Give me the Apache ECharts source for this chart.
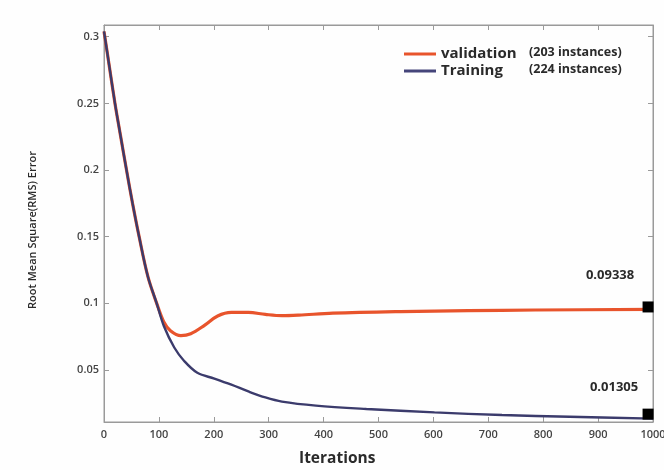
<!DOCTYPE html>
<html>
<head>
<meta charset="utf-8">
<script src="https://cdn.jsdelivr.net/npm/echarts@6/dist/echarts.min.js"></script>
<style>
html,body{margin:0;padding:0;background:#fefefe;}
#c{width:664px;height:470px;}
</style>
</head>
<body>
<div id="c"></div>
<script>
// ---- data ----
var valIters   = [0, 10, 20, 30, 41, 52, 64, 80, 96, 109, 121, 140, 158, 183, 207, 232, 263, 294, 324, 355, 417, 540, 663, 786, 1000];
var valValues  = [0.304, 0.277, 0.25, 0.226, 0.2, 0.175, 0.15, 0.12, 0.1, 0.086, 0.0795, 0.0758, 0.0772, 0.0835, 0.0905, 0.0932, 0.0932, 0.0917, 0.0908, 0.0912, 0.0926, 0.0938, 0.0945, 0.095, 0.0955];
var trainIters  = [0, 10, 20, 30, 41, 52, 64, 80, 96, 109, 128, 146, 170, 201, 232, 263, 294, 324, 386, 478, 602, 725, 848, 1000];
var trainValues = [0.304, 0.277, 0.25, 0.226, 0.2, 0.175, 0.15, 0.12, 0.1, 0.083, 0.0669, 0.0568, 0.0479, 0.0436, 0.039, 0.0339, 0.0294, 0.0263, 0.0233, 0.0208, 0.0182, 0.0162, 0.0149, 0.0135];
var endIters    = [991, 991];
var endValues   = [0.0973, 0.0169];
var endLabels   = ['0.09338', '0.01305'];
var yTicks      = [0.05, 0.1, 0.15, 0.2, 0.25, 0.3];
var seriesNames = ['validation', 'Training'];
var instances   = ['(203 instances)', '(224 instances)'];
var xTitle = 'Iterations';
var yTitle = 'Root Mean Square(RMS) Error';

function pairs(xs, ys){ return xs.map(function(x,i){ return [x, ys[i]]; }); }

var labelOffsets = [[-38, -32], [-34, -27]];
var endData = endIters.map(function(x,i){
  return { value:[x, endValues[i]], label:{ show:true, formatter:endLabels[i], position:'inside', offset:labelOffsets[i] } };
});

var axisGray = '#9a9a9a';
var font = '"Open Sans", "Noto Sans", sans-serif';
var chart = echarts.init(document.getElementById('c'), null, {renderer:'canvas'});
chart.setOption({
  backgroundColor:'#fefefe',
  animation:false,
  grid:{ left:104, right:11, top:25, bottom:48, containLabel:false, outerBoundsMode:'none',
         show:true, borderColor:axisGray, borderWidth:1, backgroundColor:'transparent' },
  legend:{
    orient:'vertical', left:399, top:41, itemGap:1,
    icon:'rect', itemWidth:32, itemHeight:3,
    data: seriesNames,
    formatter:function(n){ var i = seriesNames.indexOf(n); return '{n|' + n + '}{c|' + instances[i] + '}'; },
    textStyle:{
      fontFamily:font,
      rich:{
        n:{ fontSize:15, fontWeight:'bold', color:'#2a2a2a', width:88, lineHeight:16, fontFamily:font },
        c:{ fontSize:12.5, fontWeight:'bold', color:'#2a2a2a', lineHeight:16, fontFamily:font, padding:[0,0,3,0] }
      }
    }
  },
  xAxis:[
    { type:'value', min:0, max:1000, interval:100, position:'bottom',
      axisLine:{ show:true, onZero:false, lineStyle:{ color:axisGray } },
      axisTick:{ show:true, inside:true, length:5, lineStyle:{ color:axisGray } },
      axisLabel:{ color:'#444', fontSize:11, fontWeight:600, fontFamily:font, margin:7,
                  formatter:function(v){ return String(v); } },
      splitLine:{ show:false } },
    { type:'value', min:0, max:1000, interval:100, position:'top',
      axisLine:{ show:true, onZero:false, lineStyle:{ color:axisGray } },
      axisTick:{ show:true, inside:true, length:5, lineStyle:{ color:axisGray } },
      axisLabel:{ show:false }, splitLine:{ show:false } }
  ],
  yAxis:[
    { type:'value', min:0.011, max:0.3088, position:'left',
      axisLine:{ show:true, onZero:false, lineStyle:{ color:axisGray } },
      axisTick:{ show:true, inside:true, length:5, customValues:yTicks, lineStyle:{ color:axisGray } },
      axisLabel:{ customValues:yTicks, color:'#444', fontSize:11, fontWeight:600, fontFamily:font, margin:5,
                  formatter:function(v){ return String(Math.round(v*100)/100); } },
      splitLine:{ show:false } },
    { type:'value', min:0.011, max:0.3088, position:'right',
      axisLine:{ show:true, onZero:false, lineStyle:{ color:axisGray } },
      axisTick:{ show:true, inside:true, length:5, customValues:yTicks, lineStyle:{ color:axisGray } },
      axisLabel:{ show:false }, splitLine:{ show:false } }
  ],
  series:[
    { name:seriesNames[0], type:'line', data:pairs(valIters, valValues), smooth:0.35, showSymbol:false,
      color:'#e8542c', lineStyle:{ color:'#e8542c', width:3.2 }, z:2 },
    { name:seriesNames[1], type:'line', data:pairs(trainIters, trainValues), smooth:0.35, showSymbol:false,
      color:'#45457a', lineStyle:{ color:'#3b3b6c', width:2.4 }, z:3 },
    { name:'end', type:'scatter', data:endData, symbol:'rect', symbolSize:11, itemStyle:{ color:'#000', opacity:1 }, z:5,
      label:{ color:'#2a2a2a', fontSize:13, fontWeight:'bold', fontFamily:font } },
    { name:'mirror', type:'line', xAxisIndex:1, yAxisIndex:1, data:[], showSymbol:false, silent:true }
  ],
  graphic:[
    { type:'text', left:299, top:451, style:{ text:xTitle, font:'bold 15.5px ' + font, fill:'#2a2a2a' } },
    { type:'text', x:33, y:230, rotation:Math.PI/2, style:{ text:yTitle, font:'600 11px ' + font, fill:'#2a2a2a', align:'center', verticalAlign:'middle' } }
  ]
});
</script>
</body>
</html>
